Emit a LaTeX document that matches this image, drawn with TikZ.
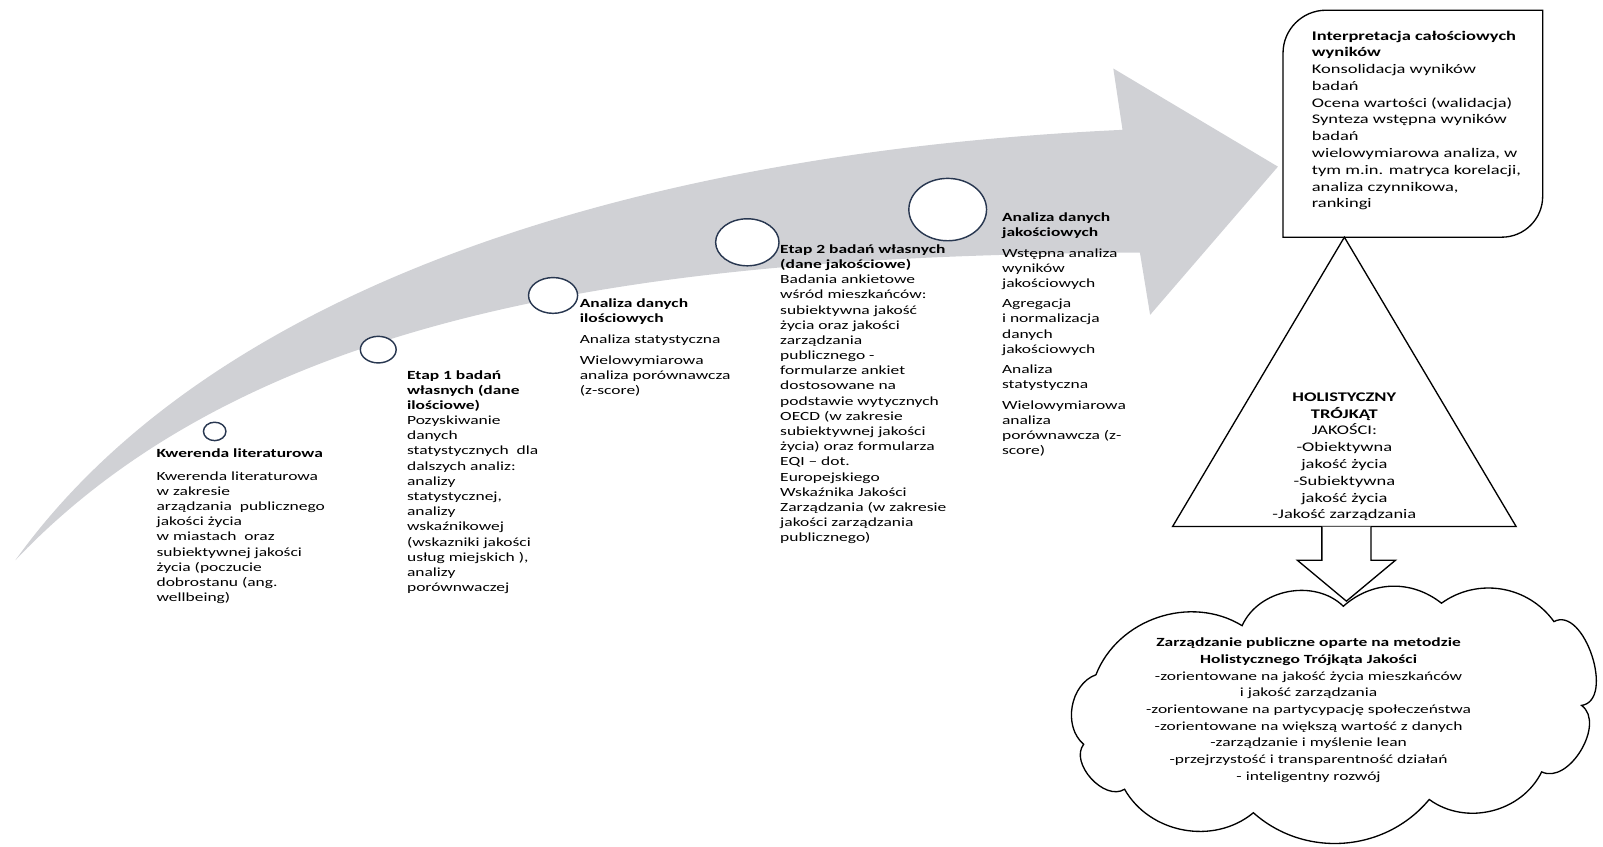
\documentclass[tikz,border=0pt]{standalone}
\usepackage{fontspec}
\setmainfont{Carlito}[FakeStretch=1.4]
\usetikzlibrary{shapes.geometric}
\definecolor{arrowgray}{RGB}{208,209,213}
\definecolor{ringblue}{RGB}{40,55,80}
\newcommand{\stagefont}{\fontsize{12.2}{14.85}\selectfont}
\newcommand{\boxfont}{\fontsize{12.9}{16.4}\selectfont}
\newcommand{\cloudfont}{\fontsize{12.2}{16.3}\selectfont}
\tikzset{
    stage/.style={anchor=north west, align=left, inner sep=0pt, font=\stagefont},
    ring/.style={ellipse, draw=ringblue, fill=white, line width=1.4pt, inner sep=0pt},
    frame/.style={draw=black, line width=1.3pt},
    bigtext/.style={inner sep=0pt, font=\boxfont}
}

\begin{document}
\begin{tikzpicture}[x=1pt, y=-1pt]
	\useasboundingbox (0,0) rectangle (1568,828);
	\fill[arrowgray] (15,548) .. controls (200,290) and (600,150) .. (1098,127)
		-- (1089,67) -- (1250,163) -- (1125,308) -- (1115,247)
		.. controls (680,250) and (260,290) .. (15,548) -- cycle;
	\node[ring, minimum width=22, minimum height=18] (m1) at (210,422) {};
	\node[ring, minimum width=35, minimum height=26] (m2) at (370,342) {};
	\node[ring, minimum width=48, minimum height=35] (m3) at (541,289) {};
	\node[ring, minimum width=62, minimum height=46] (m4) at (731,237) {};
	\node[ring, minimum width=76, minimum height=61] (m5) at (927,205) {};
	\node[stage] (kwerenda) at (153,439) {\textbf{Kwerenda literaturowa}\\[7pt]
		Kwerenda literaturowa\\ w zakresie\\ arządzania\ \ publicznego\\ jakości życia\\
		w miastach\ \ oraz\\ subiektywnej jakości\\ życia (poczucie\\ dobrostanu (ang.\\ wellbeing)};
	\node[stage] (etap1) at (398,362) {\textbf{Etap 1 badań}\\ \textbf{własnych (dane}\\ \textbf{ilościowe)}\\
		Pozyskiwanie\\ danych\\ statystycznych\ \ dla\\ dalszych analiz:\\ analizy\\ statystycznej,\\
		analizy\\ wskaźnikowej\\ (wskazniki jakości\\ usług miejskich ),\\ analizy\\ porównwaczej};
	\node[stage] (ilosc) at (567,292) {\textbf{Analiza danych}\\ \textbf{ilościowych}\\[6pt]
		Analiza statystyczna\\[5pt] Wielowymiarowa\\ analiza porównawcza\\ (z-score)};
	\node[stage] (etap2) at (763,239) {\textbf{Etap 2 badań własnych}\\ \textbf{(dane jakościowe)}\\
		Badania ankietowe\\ wśród mieszkańców:\\ subiektywna jakość\\ życia oraz jakości\\
		zarządzania\\ publicznego -\\ formularze ankiet\\ dostosowane na\\ podstawie wytycznych\\
		OECD (w zakresie\\ subiektywnej jakości\\ życia) oraz formularza\\ EQI – dot.\\
		Europejskiego\\ Wskaźnika Jakości\\ Zarządzania (w zakresie\\ jakości zarządzania\\ publicznego)};
	\node[stage] (jakosc) at (980,208) {\textbf{Analiza danych}\\ \textbf{jakościowych}\\[5pt]
		Wstępna analiza\\ wyników\\ jakościowych\\[5pt] Agregacja\\ i normalizacja\\ danych\\ jakościowych\\[5pt]
		Analiza\\ statystyczna\\[5pt] Wielowymiarowa\\ analiza\\ porównawcza (z-\\ score)};
	\draw[frame] (1255,232) -- (1255,52) arc[start angle=180, end angle=270, radius=42]
		-- (1509,10) -- (1509,192) arc[start angle=0, end angle=90, radius=40] -- cycle;
	\node[bigtext, anchor=north west, align=left] (wyniki) at (1283,30) {\textbf{Interpretacja całościowych}\\
		\textbf{wyników}\\ Konsolidacja wyników\\ badań\\ Ocena wartości (walidacja)\\ Synteza wstępna wyników\\
		badań\\ wielowymiarowa analiza, w\\ tym m.in. matryca korelacji,\\ analiza czynnikowa,\\ rankingi};
	\coordinate (apex) at (1315,232);
	\coordinate (base-l) at (1147,515);
	\coordinate (base-r) at (1483,515);
	\draw[frame, fill=white] (apex) -- (base-l) -- (base-r) -- cycle;
	\node[bigtext, anchor=north, align=center] (trojkat) at (1315,384) {\textbf{HOLISTYCZNY}\\ \textbf{TRÓJKĄT}\\
		JAKOŚCI:\\ -Obiektywna\\ jakość życia\\ -Subiektywna\\ jakość życia\\ -Jakość zarządzania};
	\draw[frame, fill=white] (1072,660) to[bend left=50] (1215,612) to[bend left=55] (1314,593)
		to[bend left=40] (1410,590) to[bend left=45] (1520,608) to[bend left=100] (1547,690)
		to[bend left=85] (1508,755) to[bend left=50] (1398,782) to[bend left=46] (1226,795)
		to[bend left=50] (1100,772) to[bend left=80] (1060,728) to[bend left=60] (1072,660) -- cycle;
	\coordinate (tip) at (1317,588);
	\draw[frame, fill=white] (1293,515) -- (1293,548) -- (1269,548) -- (tip) -- (1365,548) -- (1341,548) -- (1341,515);
	\node[inner sep=0pt, font=\cloudfont, anchor=north, align=center] (zarzadzanie) at (1280,624)
		{\textbf{Zarządzanie publiczne oparte na metodzie}\\
		\textbf{Holistycznego Trójkąta Jakości}\\ -zorientowane na jakość życia mieszkańców\\ i jakość zarządzania\\
		-zorientowane na partycypację społeczeństwa\\ -zorientowane na większą wartość z danych\\
		-zarządzanie i myślenie lean\\ -przejrzystość i transparentność działań\\ - inteligentny rozwój};
\end{tikzpicture}
\end{document}
